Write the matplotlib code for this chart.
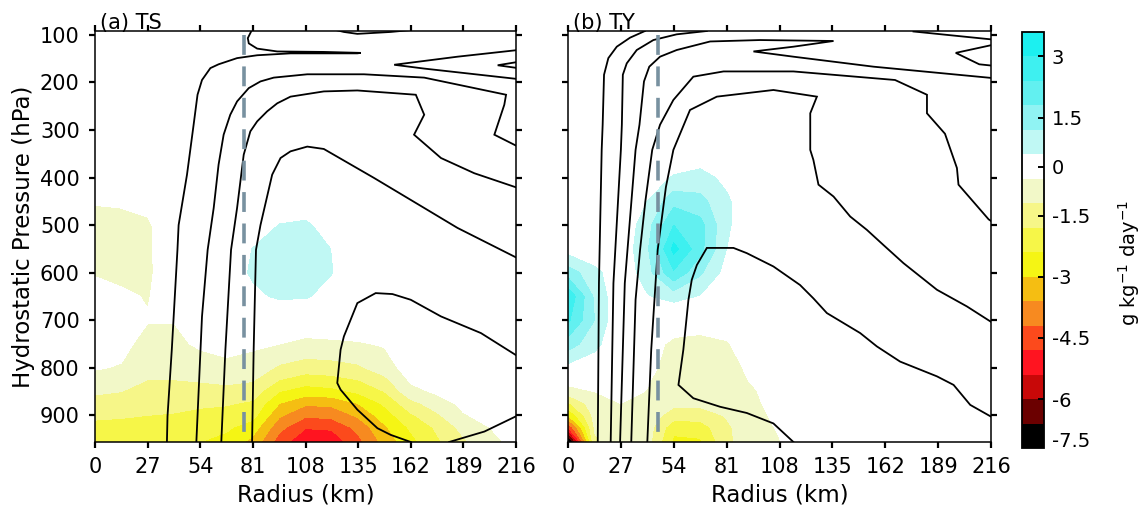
import numpy as np
import matplotlib
matplotlib.use('Agg')
import matplotlib.pyplot as plt

plt.rcParams['font.family'] = ['DejaVu Sans']
plt.rcParams['axes.unicode_minus'] = False
plt.rcParams['mathtext.default'] = 'regular'

# ---------------- data ----------------
radius_km = [0, 13.5, 27, 40.5, 54, 67.5, 81, 94.5, 108, 121.5, 135, 148.5, 162, 175.5, 189, 202.5, 216]
pressure_hpa = [100, 200, 300, 350, 400, 450, 500, 550, 600, 650, 700, 750, 800, 825, 850, 875, 900, 925, 956]

# shaded field, panel (a) TS  (rows follow pressure_hpa, columns follow radius_km)
ts_field = [
    [0]*17,
    [0]*17,
    [0]*17,
    [0]*17,
    [-0.2, -0.2, -0.1, 0, 0, 0, 0, 0, 0, 0, 0, 0, 0, 0, 0, 0, 0],
    [-0.55, -0.5, -0.4, 0, 0, 0, 0, 0.2, 0.2, 0, 0, 0, 0, 0, 0, 0, 0],
    [-0.85, -0.85, -0.7, -0.1, 0, 0, 0.1, 0.62, 0.7, 0.3, 0, 0, 0, 0, 0, 0, 0],
    [-0.85, -0.85, -0.72, -0.1, 0, 0.1, 0.62, 0.95, 1.0, 0.58, 0.1, 0, 0, 0, 0, 0, 0],
    [-0.65, -0.75, -0.72, -0.15, 0, 0.2, 0.7, 1.0, 1.0, 0.62, 0.1, 0, 0, 0, 0, 0, 0],
    [-0.35, -0.5, -0.64, -0.25, -0.05, 0.1, 0.45, 0.7, 0.68, 0.3, 0, 0, 0, 0, 0, 0, 0],
    [-0.2, -0.3, -0.56, -0.58, -0.3, -0.2, -0.2, -0.1, -0.2, -0.2, -0.2, -0.1, 0, 0, 0, 0, 0],
    [-0.3, -0.4, -0.85, -0.75, -0.5, -0.4, -0.5, -0.6, -0.75, -0.7, -0.65, -0.55, -0.1, -0.05, 0, 0, 0],
    [-0.55, -0.65, -1.05, -1.0, -0.9, -0.75, -0.85, -1.3, -1.5, -1.45, -1.3, -0.9, -0.3, -0.2, -0.1, 0, 0],
    [-0.8, -0.9, -1.2, -1.2, -1.15, -1.05, -1.15, -1.8, -2.1, -2.0, -1.8, -1.35, -0.5, -0.35, -0.2, -0.1, 0],
    [-1.1, -1.2, -1.35, -1.35, -1.4, -1.4, -1.5, -2.4, -2.7, -2.6, -2.3, -1.8, -0.8, -0.5, -0.3, -0.15, 0],
    [-1.45, -1.5, -1.55, -1.6, -1.7, -1.75, -1.9, -3.0, -3.5, -3.45, -3.0, -2.3, -1.4, -0.9, -0.45, -0.25, -0.1],
    [-1.7, -1.75, -1.8, -1.85, -1.95, -2.0, -2.2, -3.5, -4.1, -4.0, -3.5, -2.7, -1.9, -1.3, -0.65, -0.4, -0.2],
    [-1.95, -1.95, -2.0, -2.05, -2.2, -2.3, -2.7, -4.0, -4.75, -4.7, -4.0, -3.1, -2.3, -1.7, -1.0, -0.6, -0.3],
    [-2.1, -2.1, -2.1, -2.2, -2.4, -2.6, -3.2, -4.5, -5.3, -5.2, -4.4, -3.4, -2.6, -1.9, -1.3, -0.8, -0.4],
]

# shaded field, panel (b) TY
ty_field = [
    [0]*17,
    [0]*17,
    [0]*17,
    [0, 0, 0, 0, 0.2, 0.25, 0, 0, 0, 0, 0, 0, 0, 0, 0, 0, 0],
    [0, 0, 0, 0.3, 0.65, 0.8, 0.45, 0, 0, 0, 0, 0, 0, 0, 0, 0, 0],
    [0, 0, 0, 0.6, 1.6, 1.4, 0.7, 0.1, 0, 0, 0, 0, 0, 0, 0, 0, 0],
    [0, 0, 0.1, 0.95, 2.4, 2.0, 0.7, 0.1, 0, 0, 0, 0, 0, 0, 0, 0, 0],
    [0.3, 0.05, 0.15, 1.1, 3.2, 2.0, 0.6, 0.1, 0, 0, 0, 0, 0, 0, 0, 0, 0],
    [1.5, 0.8, 0.1, 0.95, 2.3, 1.3, 0.35, 0, 0, 0, 0, 0, 0, 0, 0, 0, 0],
    [2.9, 1.1, 0.05, 0.55, 0.85, 0.55, 0.1, 0, 0, 0, 0, 0, 0, 0, 0, 0, 0],
    [2.5, 1.2, 0, 0.1, -0.2, -0.3, -0.3, -0.1, 0, 0, 0, 0, 0, 0, 0, 0, 0],
    [1.5, 0.8, 0, -0.3, -0.75, -0.8, -0.65, -0.3, -0.1, 0, 0, 0, 0, 0, 0, 0, 0],
    [0.4, 0.2, -0.1, -0.45, -0.85, -0.85, -0.75, -0.5, -0.2, 0, 0, 0, 0, 0, 0, 0, 0],
    [-0.3, -0.25, -0.3, -0.55, -0.9, -0.9, -0.8, -0.55, -0.3, 0, 0, 0, 0, 0, 0, 0, 0],
    [-0.9, -0.6, -0.45, -0.62, -1.0, -1.0, -0.9, -0.65, -0.35, -0.1, 0, 0, 0, 0, 0, 0, 0],
    [-1.9, -0.85, -0.6, -0.75, -1.05, -1.05, -1.0, -0.7, -0.4, -0.15, 0, 0, 0, 0, 0, 0, 0],
    [-3.0, -1.0, -0.7, -0.85, -1.5, -1.5, -1.15, -0.75, -0.48, -0.2, 0, 0, 0, 0, 0, 0, 0],
    [-4.8, -1.15, -0.75, -0.9, -2.2, -2.1, -1.3, -0.8, -0.55, -0.25, 0, 0, 0, 0, 0, 0, 0],
    [-7.9, -1.3, -0.8, -0.95, -2.55, -2.5, -1.35, -0.8, -0.62, -0.3, 0, 0, 0, 0, 0, 0, 0],
]

# contour lines (radius km, pressure hPa), panel (a) TS
ts_c1_r = [36.9, 37.2, 39.4, 42.3, 42.9, 47.2, 50.6, 52.6, 54.9, 59.2, 63.4, 72.9, 83.2, 100.3, 134.6, 136.3, 117.4, 93.5, 83.2, 78.9, 78.4, 80.6]
ts_c1_p = [956, 902, 762, 552, 500, 394, 289, 226, 195, 170, 162, 149, 143, 139, 139, 138, 136, 135, 129, 118, 107, 89]
ts_c2_r = [52.0, 54.9, 57.8, 60.9, 63.4, 66.0, 69.4, 72.9, 78.9, 84.9, 91.7, 108.9, 138.0, 168.9, 194.6, 210.9, 210.0, 204.9, 217]
ts_c2_p = [956, 692, 552, 464, 373, 310, 268, 240, 212, 198, 190, 183, 183, 190, 212, 226, 247, 310, 335]
ts_c3_r = [64.8, 66.9, 69.8, 72.9, 76.3, 79.7, 83.2, 88.3, 93.5, 100.3, 117.4, 134.6, 164.6, 168.9, 163.7, 177.5, 194.6, 217]
ts_c3_p = [956, 762, 552, 464, 352, 303, 282, 261, 244, 230, 219, 217, 226, 268, 310, 359, 391, 422]
ts_c4_r = [80.6, 81.4, 82.6, 84.9, 90.9, 95.2, 100.3, 108.9, 117.4, 143.2, 168.9, 186.0, 217]
ts_c4_p = [956, 762, 552, 500, 394, 359, 345, 335, 340, 401, 464, 506, 570]
ts_c5_r = [162.0, 151.7, 144.9, 134.6, 126.0, 124.3, 126.0, 127.7, 134.6, 144.0, 152.6, 162.0, 177.5, 198.0, 217]
ts_c5_p = [956, 941, 927, 888, 846, 832, 762, 734, 664, 643, 645, 657, 692, 727, 776]
ts_c6_r = [181.7, 199.8, 217]
ts_c6_p = [956, 934, 900]
ts_c7_r = [122.6, 127.7, 134.6, 151.7, 164.6]
ts_c7_p = [89, 94, 98, 94, 89]
ts_c8_r = [217, 186.0, 153.5, 168.9, 217]
ts_c8_p = [132, 146, 163, 171, 193]
ts_c9_r = [217, 206.6, 217]
ts_c9_p = [157, 164, 170]

# contour lines, panel (b) TY
ty_c1_r = [15.2, 15.8, 17.2, 17.7, 18.4, 20.6, 24.9, 31.7, 39.3]
ty_c1_p = [956, 622, 342, 289, 184, 149, 125, 106, 92]
ty_c2_r = [21.8, 23.2, 27.0, 27.5, 28.0, 30.0, 35.1, 43.6, 55.5, 70.9]
ty_c2_p = [956, 622, 342, 289, 184, 160, 132, 111, 99, 92]
ty_c3_r = [26.6, 29.0, 34.5, 36.5, 38.8, 41.5, 47.0, 55.5, 72.6, 98.1, 135.6, 115.1, 94.7, 115.1, 156.0, 217]
ty_c3_p = [956, 622, 342, 289, 198, 167, 146, 132, 114, 111, 113, 125, 135, 146, 167, 191]
ty_c4_r = [32.3, 34.5, 36.8, 39.5, 43.0, 47.0, 53.8, 64.0, 79.4, 115.1, 167.0, 183.3, 183.3, 192.5, 198.6, 199.4, 214.8, 217]
ty_c4_p = [956, 657, 552, 450, 342, 289, 237, 188, 177, 177, 195, 226, 265, 308, 380, 415, 488, 494]
ty_c5_r = [40.5, 42.5, 45.8, 50.0, 53.8, 62.3, 76.0, 104.9, 127.1, 123.7, 123.7, 125.3, 127.9, 135.6, 144.1, 152.6, 161.1, 171.3, 188.4, 203.7, 217]
ty_c5_p = [956, 762, 552, 420, 342, 258, 230, 216, 230, 265, 342, 363, 415, 440, 482, 510, 542, 580, 636, 671, 706]
ty_c6_r = [115.1, 104.9, 91.3, 77.7, 64.0, 56.4, 58.9, 61.5, 63.2, 65.8, 70.9, 84.5, 91.3, 104.9, 118.5, 125.3, 132.2, 149.2, 157.7, 169.6, 188.4, 196.9, 205.4, 217]
ty_c6_p = [956, 917, 895, 882, 864, 836, 762, 657, 615, 584, 548, 548, 559, 587, 626, 654, 685, 727, 755, 787, 818, 836, 878, 905]
ty_c7_r = [176.4, 217]
ty_c7_p = [93, 110]
ty_c8_r = [217, 198.0, 210.0, 217]
ty_c8_p = [121, 138, 162, 165]

# radius of maximum wind (dashed line) and its top
rmw_ts = 76.6
rmw_ty = 45.8
rmw_top_hpa = 100

panel_titles = ['(a) TS', '(b) TY']
xticks = [0, 27, 54, 81, 108, 135, 162, 189, 216]
yticks = [100, 200, 300, 400, 500, 600, 700, 800, 900]
cbar_ticks = [3, 1.5, 0, -1.5, -3, -4.5, -6, -7.5]
cbar_ticklabels = ['3', '1.5', '0', '-1.5', '-3', '-4.5', '-6', '-7.5']

# ---------------- style ----------------
levels = [-8.0, -6.6, -6.0, -5.4, -4.8, -4.2, -3.6, -3.0, -2.4, -1.8, -1.2, -0.6,
          0.6, 1.2, 1.8, 2.4, 3.0, 3.6]
colors = ['#000000', '#6b0000', '#c80808', '#ff1420', '#fc4a1c', '#f78a20', '#f5be12',
          '#f5f514', '#f6f648', '#f6f688', '#f2f8c8', '#ffffff',
          '#c0f8f4', '#90f3f3', '#62f0f0', '#3ef0f0', '#1cf0f0']

W, H = 1146, 516
fig = plt.figure(figsize=(W / 100, H / 100), dpi=100)

def fr(l, t, r, b):
    return [l / W, 1 - b / H, (r - l) / W, (b - t) / H]

ax_a = fig.add_axes(fr(95, 31, 516, 442))
ax_b = fig.add_axes(fr(568, 31, 991, 442))
cax = fig.add_axes(fr(1022, 32, 1044, 448))

R, P = np.meshgrid(radius_km, pressure_hpa)

ts_lines = [(ts_c1_r, ts_c1_p), (ts_c2_r, ts_c2_p), (ts_c3_r, ts_c3_p), (ts_c4_r, ts_c4_p),
            (ts_c5_r, ts_c5_p), (ts_c6_r, ts_c6_p), (ts_c7_r, ts_c7_p), (ts_c8_r, ts_c8_p),
            (ts_c9_r, ts_c9_p)]
ty_lines = [(ty_c1_r, ty_c1_p), (ty_c2_r, ty_c2_p), (ty_c3_r, ty_c3_p), (ty_c4_r, ty_c4_p),
            (ty_c5_r, ty_c5_p), (ty_c6_r, ty_c6_p), (ty_c7_r, ty_c7_p), (ty_c8_r, ty_c8_p)]

cf = None
for ax, field, lines, rmw, title, showy in [
        (ax_a, ts_field, ts_lines, rmw_ts, panel_titles[0], True),
        (ax_b, ty_field, ty_lines, rmw_ty, panel_titles[1], False)]:
    cf = ax.contourf(R, P, np.array(field, dtype=float), levels=levels, colors=colors)
    for lr, lp in lines:
        ax.plot(lr, lp, color='black', lw=1.3, solid_joinstyle='miter')
    ax.vlines(rmw, rmw_top_hpa, pressure_hpa[-1], colors='#7891a0', lw=2.6,
              linestyles=(0, (5.5, 3.2)), zorder=5)
    ax.set_xlim(0, 216)
    ax.set_ylim(956, 92)
    ax.set_xticks(xticks)
    ax.set_yticks(yticks)
    ax.tick_params(axis='both', which='both', direction='out', length=4, width=1.6,
                   top=True, right=True, labelsize=15)
    ax.tick_params(axis='x', pad=7)
    ax.tick_params(axis='y', pad=7)
    if not showy:
        ax.tick_params(axis='y', labelleft=False)
    for sp in ax.spines.values():
        sp.set_linewidth(1.1)
    ax.set_xlabel('Radius (km)', fontsize=16.5)
    ax.xaxis.set_label_coords(0.5, -0.1)
    ax.text(0.012, 0.995, title, transform=ax.transAxes, fontsize=15,
            ha='left', va='bottom', zorder=10)

ax_a.set_ylabel('Hydrostatic Pressure (hPa)', fontsize=16.5)
ax_a.yaxis.set_label_coords(-0.143, 0.5)

cb = fig.colorbar(cf, cax=cax, ticks=cbar_ticks)
cb.ax.set_yticklabels(cbar_ticklabels)
cb.ax.tick_params(direction='in', length=4, width=1.4, labelsize=14, pad=5.5)
cb.outline.set_linewidth(1.3)
fig.text(1129 / W, 1 - 263 / H, 'g kg$^{-1}$ day$^{-1}$', rotation=90,
         ha='center', va='center', fontsize=14)

fig.savefig('out.png', dpi=100)
